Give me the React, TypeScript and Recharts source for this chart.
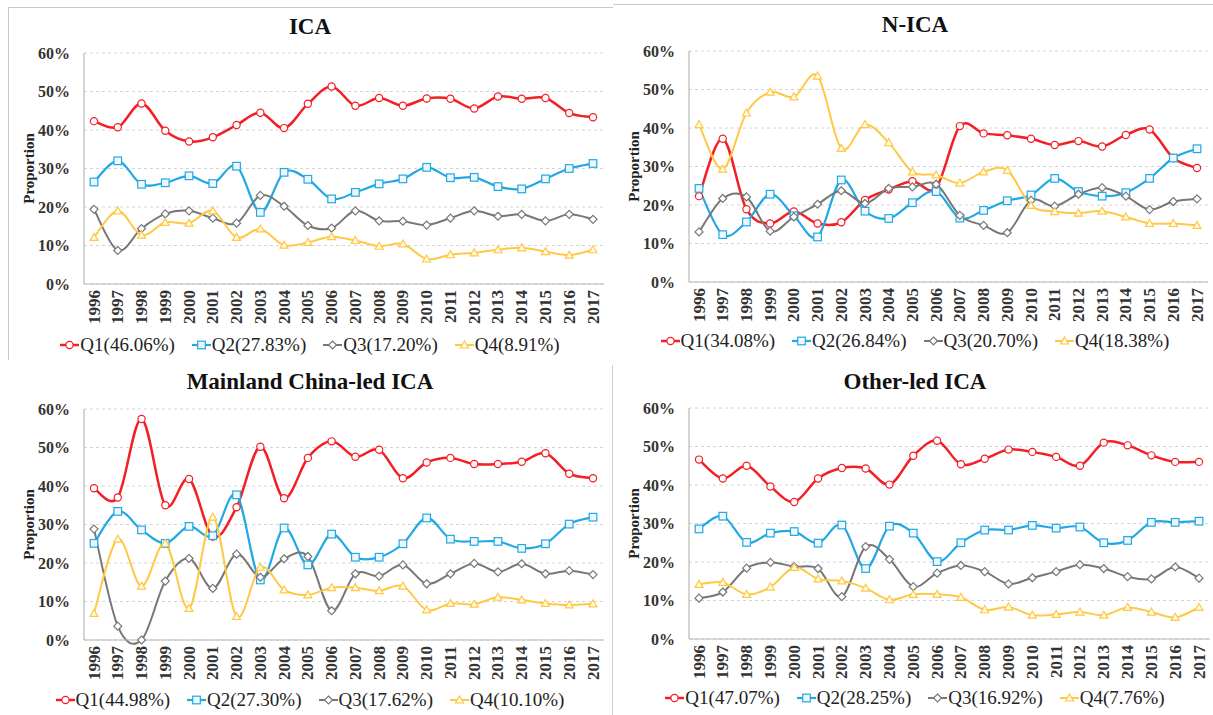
import React from "react";
import { LineChart, Line, XAxis, YAxis, CartesianGrid, Legend } from "recharts";

const YEARS = [
  "1996", "1997", "1998", "1999", "2000", "2001", "2002", "2003", "2004", "2005", "2006",
  "2007", "2008", "2009", "2010", "2011", "2012", "2013", "2014", "2015", "2016", "2017",
];

// ICA
const ICA_Q1 = [42.3, 40.7, 46.9, 39.8, 37.0, 38.1, 41.3, 44.5, 40.5, 46.8, 51.3, 46.3, 48.3, 46.3, 48.2, 48.1, 45.6, 48.7, 48.1, 48.3, 44.4, 43.3];
const ICA_Q2 = [26.5, 32.0, 25.9, 26.3, 28.1, 26.1, 30.6, 18.6, 29.0, 27.2, 22.1, 23.8, 26.0, 27.3, 30.3, 27.6, 27.7, 25.3, 24.7, 27.3, 30.0, 31.3];
const ICA_Q3 = [19.4, 8.7, 14.4, 18.2, 19.0, 17.1, 15.8, 23.0, 20.2, 15.2, 14.5, 19.0, 16.4, 16.3, 15.3, 17.1, 19.0, 17.6, 18.1, 16.4, 18.1, 16.8];
const ICA_Q4 = [12.1, 19.0, 12.7, 16.0, 15.8, 19.0, 12.1, 14.3, 10.1, 10.8, 12.3, 11.3, 9.8, 10.4, 6.5, 7.6, 8.1, 8.9, 9.4, 8.4, 7.5, 8.9];
const ICA_SHARE = ["46.06%", "27.83%", "17.20%", "8.91%"];

// N-ICA
const NICA_Q1 = [22.3, 37.2, 18.9, 15.2, 18.3, 15.2, 15.5, 21.3, 24.0, 26.2, 24.5, 40.5, 38.6, 38.1, 37.2, 35.6, 36.6, 35.2, 38.2, 39.6, 32.2, 29.6];
const NICA_Q2 = [24.3, 12.3, 15.6, 22.8, 17.2, 11.7, 26.5, 18.4, 16.5, 20.6, 23.5, 16.6, 18.6, 21.1, 22.6, 26.9, 23.5, 22.3, 23.2, 26.9, 32.2, 34.6];
const NICA_Q3 = [13.0, 21.7, 22.1, 13.2, 16.9, 20.2, 23.7, 20.4, 24.3, 24.7, 25.4, 17.3, 14.7, 12.8, 21.2, 19.7, 22.8, 24.5, 22.3, 18.8, 20.9, 21.6];
const NICA_Q4 = [40.9, 29.3, 43.9, 49.3, 48.1, 53.5, 34.7, 40.9, 36.2, 28.6, 27.8, 25.7, 28.6, 29.0, 19.9, 18.3, 17.9, 18.4, 16.9, 15.2, 15.2, 14.7];
const NICA_SHARE = ["34.08%", "26.84%", "20.70%", "18.38%"];

// Mainland China-led ICA
const MC_Q1 = [39.4, 37.0, 57.4, 35.0, 41.8, 26.9, 34.5, 50.2, 36.8, 47.3, 51.6, 47.6, 49.4, 42.0, 46.1, 47.3, 45.7, 45.7, 46.3, 48.5, 43.2, 42.0];
const MC_Q2 = [25.1, 33.4, 28.6, 25.1, 29.5, 27.1, 37.7, 15.6, 29.1, 19.5, 27.5, 21.5, 21.5, 25.0, 31.7, 26.2, 25.6, 25.6, 23.8, 25.0, 30.1, 31.9];
const MC_Q3 = [28.8, 3.6, 0.0, 15.3, 21.2, 13.4, 22.3, 16.3, 21.1, 21.7, 7.6, 17.2, 16.6, 19.5, 14.6, 17.2, 19.9, 17.7, 19.8, 17.2, 18.0, 17.0];
const MC_Q4 = [6.9, 26.2, 14.0, 25.1, 8.2, 31.9, 6.1, 18.9, 13.0, 11.7, 13.6, 13.6, 12.8, 14.0, 7.8, 9.5, 9.3, 11.1, 10.4, 9.5, 9.1, 9.4];
const MC_SHARE = ["44.98%", "27.30%", "17.62%", "10.10%"];

// Other-led ICA
const OT_Q1 = [46.6, 41.7, 45.0, 39.6, 35.6, 41.7, 44.4, 44.3, 40.1, 47.6, 51.5, 45.4, 46.8, 49.2, 48.6, 47.3, 45.0, 51.0, 50.3, 47.7, 46.0, 46.0];
const OT_Q2 = [28.6, 31.9, 25.1, 27.5, 27.9, 24.9, 29.6, 18.3, 29.3, 27.5, 20.1, 25.0, 28.3, 28.3, 29.5, 28.8, 29.1, 25.0, 25.6, 30.3, 30.3, 30.6];
const OT_Q3 = [10.6, 12.2, 18.4, 19.9, 18.8, 18.3, 11.0, 24.0, 20.7, 13.6, 17.1, 19.1, 17.5, 14.3, 15.9, 17.5, 19.3, 18.3, 16.2, 15.6, 18.7, 15.8];
const OT_Q4 = [14.2, 14.7, 11.6, 13.5, 18.6, 15.6, 15.1, 13.2, 10.2, 11.6, 11.6, 10.8, 7.6, 8.3, 6.2, 6.4, 7.0, 6.2, 8.2, 7.0, 5.6, 8.2];
const OT_SHARE = ["47.07%", "28.25%", "16.92%", "7.76%"];

const Y_TICKS = [0, 10, 20, 30, 40, 50, 60];

const FONT = '"Liberation Serif", "Times New Roman", serif';
const SERIES = [
  { key: "q1", name: "Q1", color: "#f31f26", width: 2.5, mark: "circle" },
  { key: "q2", name: "Q2", color: "#22a8e4", width: 2.2, mark: "square" },
  { key: "q3", name: "Q3", color: "#777777", width: 2, mark: "diamond" },
  { key: "q4", name: "Q4", color: "#ffc845", width: 2, mark: "triangle" },
];

// Excel-like smoothed line (Catmull-Rom through the points)
function excelCurve(context: any) {
  let pts: [number, number][] = [];
  return {
    areaStart() {},
    areaEnd() {},
    lineStart() { pts = []; },
    lineEnd() {
      if (!pts.length) return;
      context.moveTo(pts[0][0], pts[0][1]);
      for (let i = 0; i < pts.length - 1; i++) {
        const p0 = pts[i - 1] || pts[i];
        const p1 = pts[i];
        const p2 = pts[i + 1];
        const p3 = pts[i + 2] || p2;
        context.bezierCurveTo(
          p1[0] + (p2[0] - p0[0]) / 6, p1[1] + (p2[1] - p0[1]) / 6,
          p2[0] - (p3[0] - p1[0]) / 6, p2[1] - (p3[1] - p1[1]) / 6,
          p2[0], p2[1]
        );
      }
    },
    point(x: number, y: number) { pts.push([+x, +y]); },
  };
}

function markShape(mark: string, cx: number, cy: number, color: string, key?: string) {
  if (mark === "circle") return <circle key={key} cx={cx} cy={cy} r={3.6} fill="#fff" stroke={color} strokeWidth={1.2} />;
  if (mark === "square") return <rect key={key} x={cx - 3.8} y={cy - 3.8} width={7.6} height={7.6} fill="#eef8fd" stroke={color} strokeWidth={1.2} />;
  if (mark === "diamond")
    return <polygon key={key} points={`${cx},${cy - 4} ${cx + 4},${cy} ${cx},${cy + 4} ${cx - 4},${cy}`} fill="#fff" stroke={color} strokeWidth={1.2} />;
  return <polygon key={key} points={`${cx},${cy - 4} ${cx + 4},${cy + 3} ${cx - 4},${cy + 3}`} fill="#fffbe8" stroke={color} strokeWidth={1.2} />;
}

const XTick = (props: any) => {
  const { x, y, payload } = props;
  return (
    <text x={x} y={y} transform={`rotate(-90, ${x}, ${y})`} textAnchor="end" dominantBaseline="central"
      fontFamily={FONT} fontSize={17} fontWeight="bold" fill="#333">
      {payload.value}
    </text>
  );
};

function buildRows(series: number[][]) {
  return YEARS.map((year, i) => ({ year, q1: series[0][i], q2: series[1][i], q3: series[2][i], q4: series[3][i] }));
}

const PANELS = [
  { title: "ICA", left: 0, top: 0, mt: 53, mr: 4, mb: 21, titleY: 27, legendY: 347, rows: buildRows([ICA_Q1, ICA_Q2, ICA_Q3, ICA_Q4]), share: ICA_SHARE },
  { title: "N-ICA", left: 605, top: 0, mt: 51, mr: 5, mb: 23, titleY: 25, legendY: 343, rows: buildRows([NICA_Q1, NICA_Q2, NICA_Q3, NICA_Q4]), share: NICA_SHARE },
  { title: "Mainland China-led ICA", left: 0, top: 360, mt: 49, mr: 4, mb: 25, titleY: 22, legendY: 342, rows: buildRows([MC_Q1, MC_Q2, MC_Q3, MC_Q4]), share: MC_SHARE },
  { title: "Other-led ICA", left: 605, top: 360, mt: 48, mr: 3, mb: 26, titleY: 22, legendY: 340, rows: buildRows([OT_Q1, OT_Q2, OT_Q3, OT_Q4]), share: OT_SHARE },
];

const W = 608;
const H = 355;
const BORDER = "#b8b8b8";

function Panel({ p }: { p: (typeof PANELS)[number] }) {
  return (
    <div style={{ position: "absolute", left: p.left, top: p.top, width: W, height: H }}>
      <div style={{
        position: "absolute", left: 6, width: W, top: p.titleY - 14, height: 28, lineHeight: "28px",
        textAlign: "center", fontFamily: FONT, fontWeight: "bold", fontSize: 23, color: "#111",
      }}>{p.title}</div>
      <LineChart width={W} height={H} data={p.rows} margin={{ top: p.mt, right: p.mr, bottom: p.mb, left: 0 }}>
        <CartesianGrid horizontal vertical={false} stroke="#d4d4d4" strokeDasharray="3 3" />
        <XAxis dataKey="year" interval={0} height={50} padding={{ left: 10, right: 11 }}
          tickLine={false} axisLine={{ stroke: BORDER, strokeWidth: 1.2 }} tickMargin={0} tick={<XTick />} />
        <XAxis xAxisId="top" orientation="top" dataKey="year" height={0} tick={false} tickLine={false}
          padding={{ left: 10, right: 11 }} axisLine={{ stroke: BORDER, strokeWidth: 1.2 }} />
        <YAxis domain={[0, 60]} ticks={Y_TICKS} width={84} tickLine={false} tickMargin={8}
          axisLine={{ stroke: BORDER, strokeWidth: 1.2 }} tickFormatter={(v) => `${v}%`}
          tick={{ fontFamily: FONT, fontSize: 16, fontWeight: "bold", fill: "#333" }}
          label={(lp: any) => {
            const vb = lp.viewBox || {};
            const cx = (vb.x ?? 0) + 29;
            const cy = (vb.y ?? 0) + (vb.height ?? 0) / 2;
            return (
              <text x={cx} y={cy} transform={`rotate(-90, ${cx}, ${cy})`} textAnchor="middle" dominantBaseline="central"
                fontFamily={FONT} fontSize={15} fontWeight="bold" fill="#222">Proportion</text>
            );
          }} />
        <YAxis yAxisId="right" orientation="right" domain={[0, 60]} width={0} tick={false} tickLine={false}
          axisLine={{ stroke: BORDER, strokeWidth: 1.2 }} />
        <Legend verticalAlign="middle" align="center" wrapperStyle={{ top: p.legendY - 13, left: 6, width: W, height: 26 }}
          content={() => (
            <div style={{ display: "flex", justifyContent: "center", alignItems: "center", gap: 17, fontFamily: FONT, fontSize: 19, color: "#222" }}>
              {SERIES.map((s, i) => (
                <div key={s.key} style={{ display: "flex", alignItems: "center" }}>
                  <svg width={19} height={12}>
                    <line x1={0} y1={6} x2={19} y2={6} stroke={s.color} strokeWidth={s.width} />
                    {markShape(s.mark, 9.5, 6, s.color)}
                  </svg>
                  <span style={{ marginLeft: 1 }}>{`${s.name}(${p.share[i]})`}</span>
                </div>
              ))}
            </div>
          )} />
        {SERIES.map((s) => (
          <Line key={s.key} dataKey={s.key} name={s.name} type={excelCurve as any} stroke={s.color} strokeWidth={s.width}
            isAnimationActive={false} activeDot={false}
            dot={(d: any) => markShape(s.mark, d.cx, d.cy, s.color, `${s.key}-${d.index}`)} />
        ))}
      </LineChart>
    </div>
  );
}

export default function App() {
  return (
    <div style={{ position: "absolute", left: 0, top: 0, width: 1213, height: 715, background: "#fff", overflow: "hidden" }}>
      {/* panel frames */}
      <div style={{ position: "absolute", left: 8, top: 7, width: 605, height: 1, background: "#c8c8c8" }} />
      <div style={{ position: "absolute", left: 8, top: 7, width: 1, height: 353, background: "#c8c8c8" }} />
      <div style={{ position: "absolute", left: 613, top: 4, width: 600, height: 1, background: "#c8c8c8" }} />
      <div style={{ position: "absolute", left: 612, top: 365, width: 1, height: 350, background: "#d0d0d0" }} />
      {PANELS.map((p) => <Panel key={p.title} p={p} />)}
    </div>
  );
}
